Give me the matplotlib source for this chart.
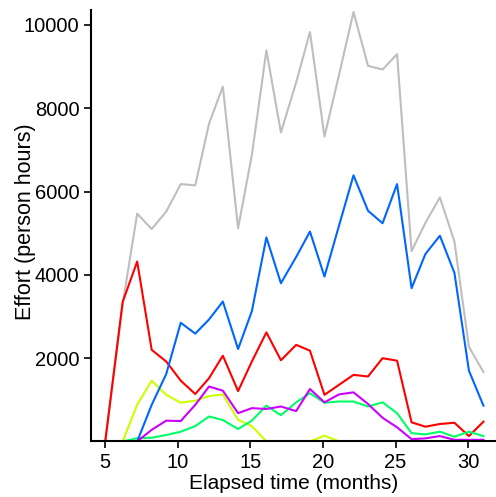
import numpy as np
import matplotlib
matplotlib.use('Agg')
import matplotlib.pyplot as plt

nan = np.nan

months = [5.0, 6.2, 7.2, 8.2, 9.2, 10.2, 11.2, 12.15, 13.1, 14.15, 15.1, 16.1, 17.1, 18.15,
          19.1, 20.1, 21.1, 22.1, 23.1, 24.1, 25.1, 26.1, 27.05, 28.05, 29.05, 30.05, 31.05]

total = [0, 3300, 5470, 5100, 5520, 6180, 6150, 7630, 8520, 5120, 6880, 9390, 7420, 8620,
         9830, 7320, 8800, 10310, 9020, 8930, 9300, 4570, 5250, 5860, 4800, 2270, 1670]
red = [0, 3350, 4320, 2200, 1920, 1460, 1140, 1520, 2060, 1210, 1920, 2620, 1950, 2320,
       2180, 1120, 1360, 1600, 1560, 2000, 1940, 460, 355, 420, 450, 130, 475]
yellow = [nan, 0, 880, 1460, 1120, 930, 980, 1090, 1130, 520, 370, 0, 0, 0,
          0, 140, 0, nan, nan, nan, nan, nan, nan, nan, nan, nan, nan]
green = [nan, 0, 80, 90, 155, 235, 370, 600, 515, 300, 500, 860, 630, 940,
         1160, 930, 960, 960, 840, 940, 680, 200, 170, 235, 115, 235, 130]
blue = [nan, nan, 0, 880, 1620, 2850, 2590, 2930, 3360, 2220, 3130, 4900, 3800, 4430,
        5040, 3960, 5180, 6390, 5540, 5240, 6180, 3680, 4500, 4940, 4050, 1700, 860]
purple = [nan, nan, 0, 280, 500, 490, 880, 1320, 1220, 680, 800, 780, 840, 730,
          1260, 940, 1130, 1180, 900, 570, 340, 55, 75, 130, 40, 40, 40]

series = [
    (total, '#BEBEBE'),
    (red, '#FF0000'),
    (yellow, '#CCFF00'),
    (green, '#00FF66'),
    (blue, '#0066FF'),
    (purple, '#CC00FF'),
]

plt.rcParams['font.family'] = ['Liberation Sans', 'DejaVu Sans']

fig = plt.figure(figsize=(4.96, 4.97), dpi=100)
ax = fig.add_axes([0.1829, 0.1117, 0.8196, 0.8682])

for values, color in series:
    ax.plot(months, values, color=color, linewidth=1.5)

ax.set_xlim(4, 32)
ax.set_ylim(0, 10360)
ax.set_xticks([5, 10, 15, 20, 25, 30])
ax.set_yticks([2000, 4000, 6000, 8000, 10000])

for side in ['top', 'right']:
    ax.spines[side].set_visible(False)
for side in ['left', 'bottom']:
    ax.spines[side].set_linewidth(1.5)

ax.tick_params(axis='both', labelsize=14.5, width=1.2, length=5, pad=3, colors='black')
ax.set_xlabel('Elapsed time (months)', fontsize=15)
ax.set_ylabel('Effort (person hours)', fontsize=15.5)
# label sits closer to the axis than the widest tick label
ax.yaxis.set_label_coords(-0.135, 0.51)
ax.xaxis.set_label_coords(0.5, -0.075)

fig.savefig('out.png', dpi=100)
